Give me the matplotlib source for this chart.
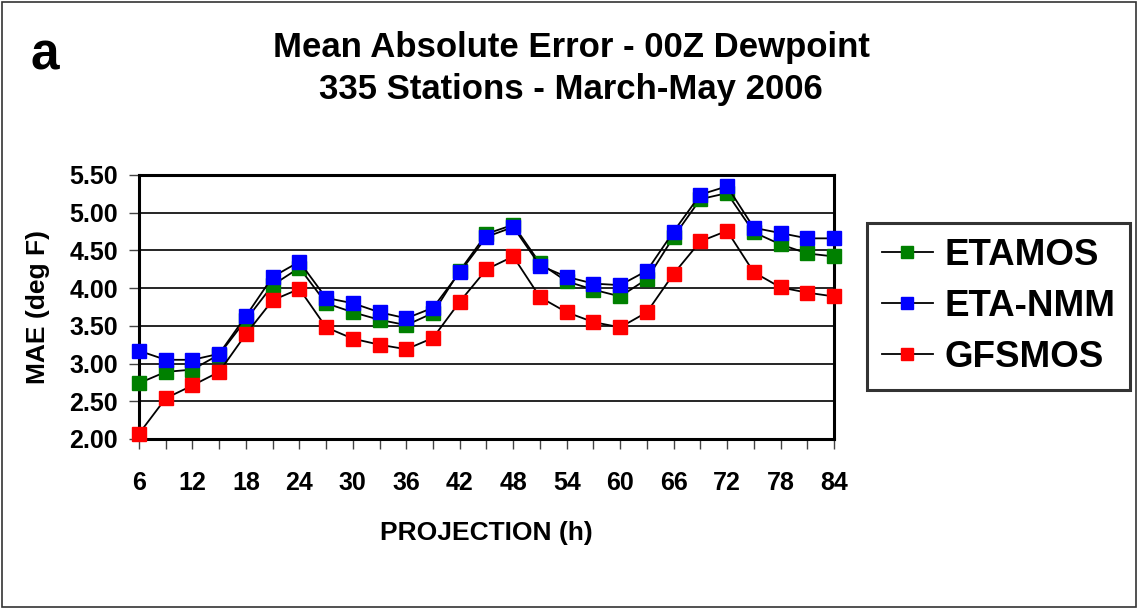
import matplotlib
matplotlib.use("Agg")
import matplotlib.pyplot as plt
from matplotlib.patches import Rectangle

plt.rcParams['font.family'] = ['Liberation Sans', 'DejaVu Sans']
plt.rcParams['font.weight'] = 'bold'

# Projection hours (every 3 h)
hours = [6, 9, 12, 15, 18, 21, 24, 27, 30, 33, 36, 39, 42, 45, 48,
         51, 54, 57, 60, 63, 66, 69, 72, 75, 78, 81, 84]

etamos = [2.74, 2.89, 2.92, 3.12, 3.58, 4.04, 4.27, 3.80, 3.68, 3.58, 3.51, 3.67, 4.23, 4.72,
          4.84, 4.33, 4.09, 3.98, 3.89, 4.12, 4.68, 5.18, 5.26, 4.74, 4.58, 4.46, 4.42]
eta_nmm = [3.17, 3.05, 3.05, 3.13, 3.63, 4.15, 4.35, 3.87, 3.80, 3.68, 3.60, 3.74, 4.21, 4.68,
           4.81, 4.30, 4.15, 4.06, 4.04, 4.23, 4.75, 5.24, 5.35, 4.80, 4.73, 4.66, 4.66]
gfsmos = [2.07, 2.54, 2.71, 2.89, 3.39, 3.84, 3.99, 3.48, 3.33, 3.25, 3.19, 3.34, 3.82, 4.25,
          4.42, 3.88, 3.68, 3.55, 3.48, 3.68, 4.19, 4.62, 4.76, 4.21, 4.01, 3.94, 3.89]

x_labels = [str(h) if (h - 6) % 6 == 0 else '' for h in hours]
y_ticks = [2.0, 2.5, 3.0, 3.5, 4.0, 4.5, 5.0, 5.5]

W, H = 1138, 609
fig = plt.figure(figsize=(W / 100, H / 100), dpi=100)
ax = fig.add_axes([139 / W, 1 - 439 / H, (834 - 139) / W, (439 - 175) / H])

series = [('ETAMOS', etamos, '#008000'),
          ('ETA-NMM', eta_nmm, '#0000FF'),
          ('GFSMOS', gfsmos, '#FF0000')]
for name, vals, col in series:
    ax.plot(hours, vals, color='black', lw=1.3, marker='s', markersize=10.5,
            markerfacecolor=col, markeredgecolor=col, label=name, clip_on=False, zorder=3)

ax.set_xlim(6, 84)
ax.set_ylim(2.0, 5.5)
ax.set_xticks(hours)
ax.set_xticklabels(x_labels, fontsize=18, fontweight='bold')
ax.set_yticks(y_ticks)
ax.set_yticklabels([f'{v:.2f}' for v in y_ticks], fontsize=18, fontweight='bold')
ax.tick_params(axis='x', length=7, width=1, color='#444444', pad=16)
ax.tick_params(axis='y', length=7, width=1, color='#444444', pad=8)
ax.yaxis.grid(True, color='black', lw=1.2)
ax.set_axisbelow(True)
for sp in ax.spines.values():
    sp.set_linewidth(2.2)
    sp.set_color('black')

ax.set_xlabel('PROJECTION (h)', fontsize=19, fontweight='bold', labelpad=19)
ax.set_ylabel('MAE (deg F)', fontsize=19, fontweight='bold', labelpad=14)

fig.text(571 / W, 1 - 47 / H, 'Mean Absolute Error - 00Z Dewpoint', ha='center', va='center',
         fontsize=25, fontweight='bold')
fig.text(571 / W, 1 - 89 / H, '335 Stations - March-May 2006', ha='center', va='center',
         fontsize=25, fontweight='bold')
fig.text(30 / W, 1 - 56 / H, 'a', ha='left', va='center', fontsize=37, fontweight='bold')

leg = fig.legend(loc='upper left', bbox_to_anchor=(867 / W, 1 - 223 / H),
                 fontsize=26.5, frameon=True, fancybox=False, handlelength=1.4,
                 handletextpad=0.3, borderpad=0.4, labelspacing=0.44, borderaxespad=0)
leg.get_frame().set_edgecolor('black')
leg.get_frame().set_linewidth(2.2)
for line in leg.get_lines():
    line.set_markersize(9)
for t in leg.get_texts():
    t.set_fontweight('bold')

fig.patches.append(Rectangle((2 / W, 2 / H), 1 - 4 / W, 1 - 4 / H, transform=fig.transFigure,
                             fill=False, edgecolor='#333333', lw=1.2))

fig.savefig('out.png', dpi=100)
